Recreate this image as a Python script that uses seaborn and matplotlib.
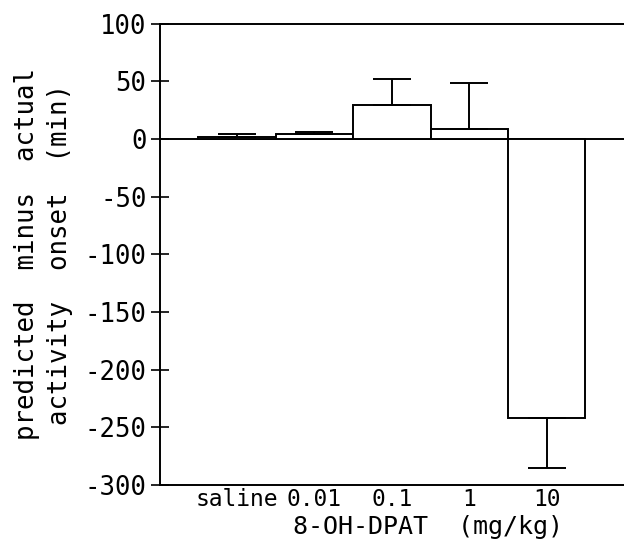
import pandas as pd
import matplotlib
matplotlib.use('Agg')
import matplotlib.pyplot as plt
import seaborn as sns

# values
doses = ['saline', '0.01', '0.1', '1', '10']
onset_diff = [2, 4, 29, 8.5, -242]
sem = [2, 2, 23, 40, 43]

df = pd.DataFrame({'dose': doses, 'diff': onset_diff, 'sem': sem})

sns.set_style('white')
plt.rcParams['font.family'] = ['DejaVu Sans Mono']
plt.rcParams['axes.unicode_minus'] = False
plt.rcParams['text.color'] = 'black'
plt.rcParams['axes.labelcolor'] = 'black'
plt.rcParams['xtick.color'] = 'black'
plt.rcParams['ytick.color'] = 'black'

fig = plt.figure(figsize=(6.24, 5.41), dpi=100)
ax = fig.add_axes([0.256, 0.1035, 0.744, 0.853])

sns.barplot(data=df, x='dose', y='diff', width=1.0, color='white',
            edgecolor='black', linewidth=1.4, errorbar=None, ax=ax)

# one-sided error bars, pointing away from zero
lower = [s if v < 0 else 0 for v, s in zip(onset_diff, sem)]
upper = [s if v >= 0 else 0 for v, s in zip(onset_diff, sem)]
ax.errorbar(range(len(doses)), onset_diff, yerr=[lower, upper], fmt='none',
            ecolor='black', elinewidth=1.4, capsize=14, capthick=1.4)

ax.axhline(0, color='black', lw=1.4, zorder=0.5)

ax.set_xlim(-1, 5)
ax.set_ylim(-300, 100)
ax.set_yticks(range(-300, 101, 50))
ax.tick_params(axis='y', direction='inout', length=13, width=1.2,
               labelsize=18.5, pad=3, left=True)
ax.tick_params(axis='x', length=0, labelsize=16.5, pad=2)

for side in ['top', 'left', 'bottom']:
    ax.spines[side].set_color('black')
    ax.spines[side].set_linewidth(1.4)
ax.spines['right'].set_visible(False)

ax.set_ylabel('predicted  minus  actual\nactivity  onset  (min)',
              fontsize=18.5, linespacing=1.35)
ax.yaxis.set_label_coords(-0.187, 0.5)
ax.set_xlabel('8-OH-DPAT  (mg/kg)', fontsize=18, labelpad=0)
ax.xaxis.set_label_coords(0.578, -0.065)

fig.savefig('out.png', dpi=100)
